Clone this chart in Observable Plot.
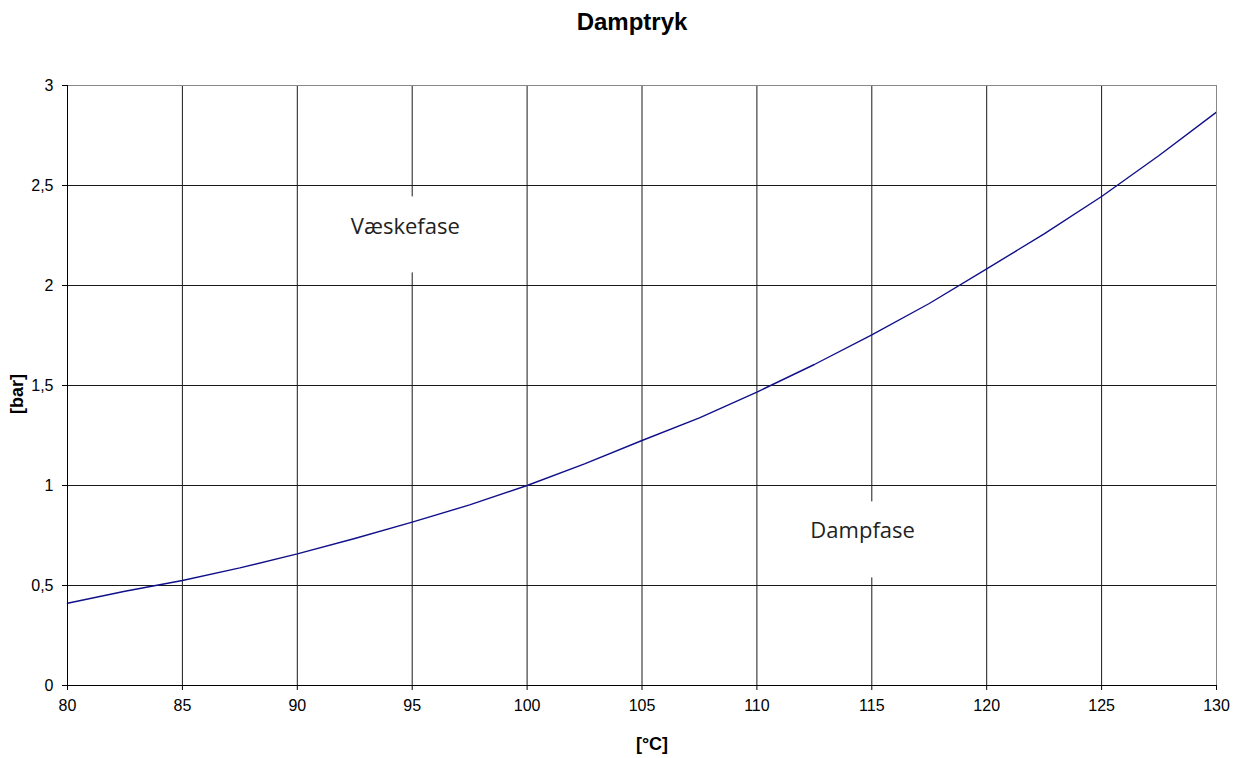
<!DOCTYPE html>
<html>
<head>
<meta charset="utf-8">
<script src="https://cdn.jsdelivr.net/npm/d3@7"></script>
<script src="https://cdn.jsdelivr.net/npm/@observablehq/plot@0.6"></script>
<style>
  body { margin: 0; background: #fff; }
  #chart svg { display: block; }
</style>
</head>
<body>
<div id="chart"></div>
<script>
// --- Data ---
const temps     = [80, 82.5, 85, 87.5, 90, 92.5, 95, 97.5, 100, 102.5, 105, 107.5, 110, 112.5, 115, 117.5, 120, 122.5, 125, 127.5, 130];
const pressures = [0.411, 0.471, 0.525, 0.588, 0.658, 0.735, 0.817, 0.903, 1.0, 1.108, 1.225, 1.338, 1.467, 1.605, 1.753, 1.91, 2.083, 2.258, 2.445, 2.65, 2.867];

const xTicks = [80, 85, 90, 95, 100, 105, 110, 115, 120, 125, 130];
const yTicks = [0, 0.5, 1, 1.5, 2, 2.5, 3];
const yTickLabels = ["0", "0,5", "1", "1,5", "2", "2,5", "3"];

const phaseLabels = ["Væskefase", "Dampfase"];
const phaseX = [94.7, 114.6];
const phaseY = [2.295, 0.775];
const phaseBoxY = [2.253, 0.728];

const title = "Damptryk";
const xLabel = "[°C]";
const yLabel = "[bar]";

// --- Tables ---
const data = temps.map((t, i) => ({t, p: pressures[i]}));
const phases = phaseLabels.map((label, i) => ({label, x: phaseX[i], y: phaseY[i], by: phaseBoxY[i]}));

const chart = Plot.plot({
  width: 1233,
  height: 758,
  marginTop: 85,
  marginRight: 17,
  marginBottom: 73,
  marginLeft: 67,
  style: {fontFamily: "'Liberation Sans', Arial, sans-serif", fontSize: "16px", color: "#000", background: "#fff", overflow: "visible"},
  x: {domain: [80, 130]},
  y: {domain: [0, 3]},
  marks: [
    Plot.ruleX(xTicks, {stroke: "#1a1a1a", strokeWidth: 1}),
    Plot.ruleY(yTicks, {stroke: "#1a1a1a", strokeWidth: 1}),
    Plot.rect(phases, {x1: d => d.x - 2.6, x2: d => d.x + 2.6, y1: d => d.by - 0.19, y2: d => d.by + 0.19, fill: "white"}),
    Plot.text(phases, {x: "x", y: "y", text: "label", fontFamily: "'Open Sans', 'Noto Sans', sans-serif", fontSize: 22, fill: "#222"}),
    Plot.line(data, {x: "t", y: "p", stroke: "#10108a", strokeWidth: 1.4}),
    Plot.frame({stroke: "#888"}),
    Plot.ruleX([80], {stroke: "#000"}),
    Plot.ruleY([0], {stroke: "#000"}),
    Plot.axisX(xTicks, {tickSize: 5, tickPadding: 9, fontSize: 16, label: null, stroke: "#000"}),
    Plot.axisY(yTicks, {tickSize: 5, tickPadding: 9, fontSize: 16, label: null, stroke: "#000",
      tickFormat: d => yTickLabels[yTicks.indexOf(d)]})
  ]
});

const svg = d3.select(chart);
svg.append("text")
  .attr("x", 632).attr("y", 30)
  .attr("text-anchor", "middle")
  .attr("font-family", "'Liberation Sans', Arial, sans-serif")
  .attr("font-weight", "bold").attr("font-size", 24)
  .attr("fill", "#000")
  .text(title);
svg.append("text")
  .attr("x", 652).attr("y", 750)
  .attr("text-anchor", "middle")
  .attr("font-family", "'Liberation Sans', Arial, sans-serif")
  .attr("font-weight", "bold").attr("font-size", 18)
  .attr("fill", "#000")
  .text(xLabel);
svg.append("text")
  .attr("transform", "translate(23,394) rotate(-90)")
  .attr("text-anchor", "middle")
  .attr("font-family", "'Liberation Sans', Arial, sans-serif")
  .attr("font-weight", "bold").attr("font-size", 18)
  .attr("fill", "#000")
  .text(yLabel);

document.getElementById("chart").append(chart);
</script>
</body>
</html>
